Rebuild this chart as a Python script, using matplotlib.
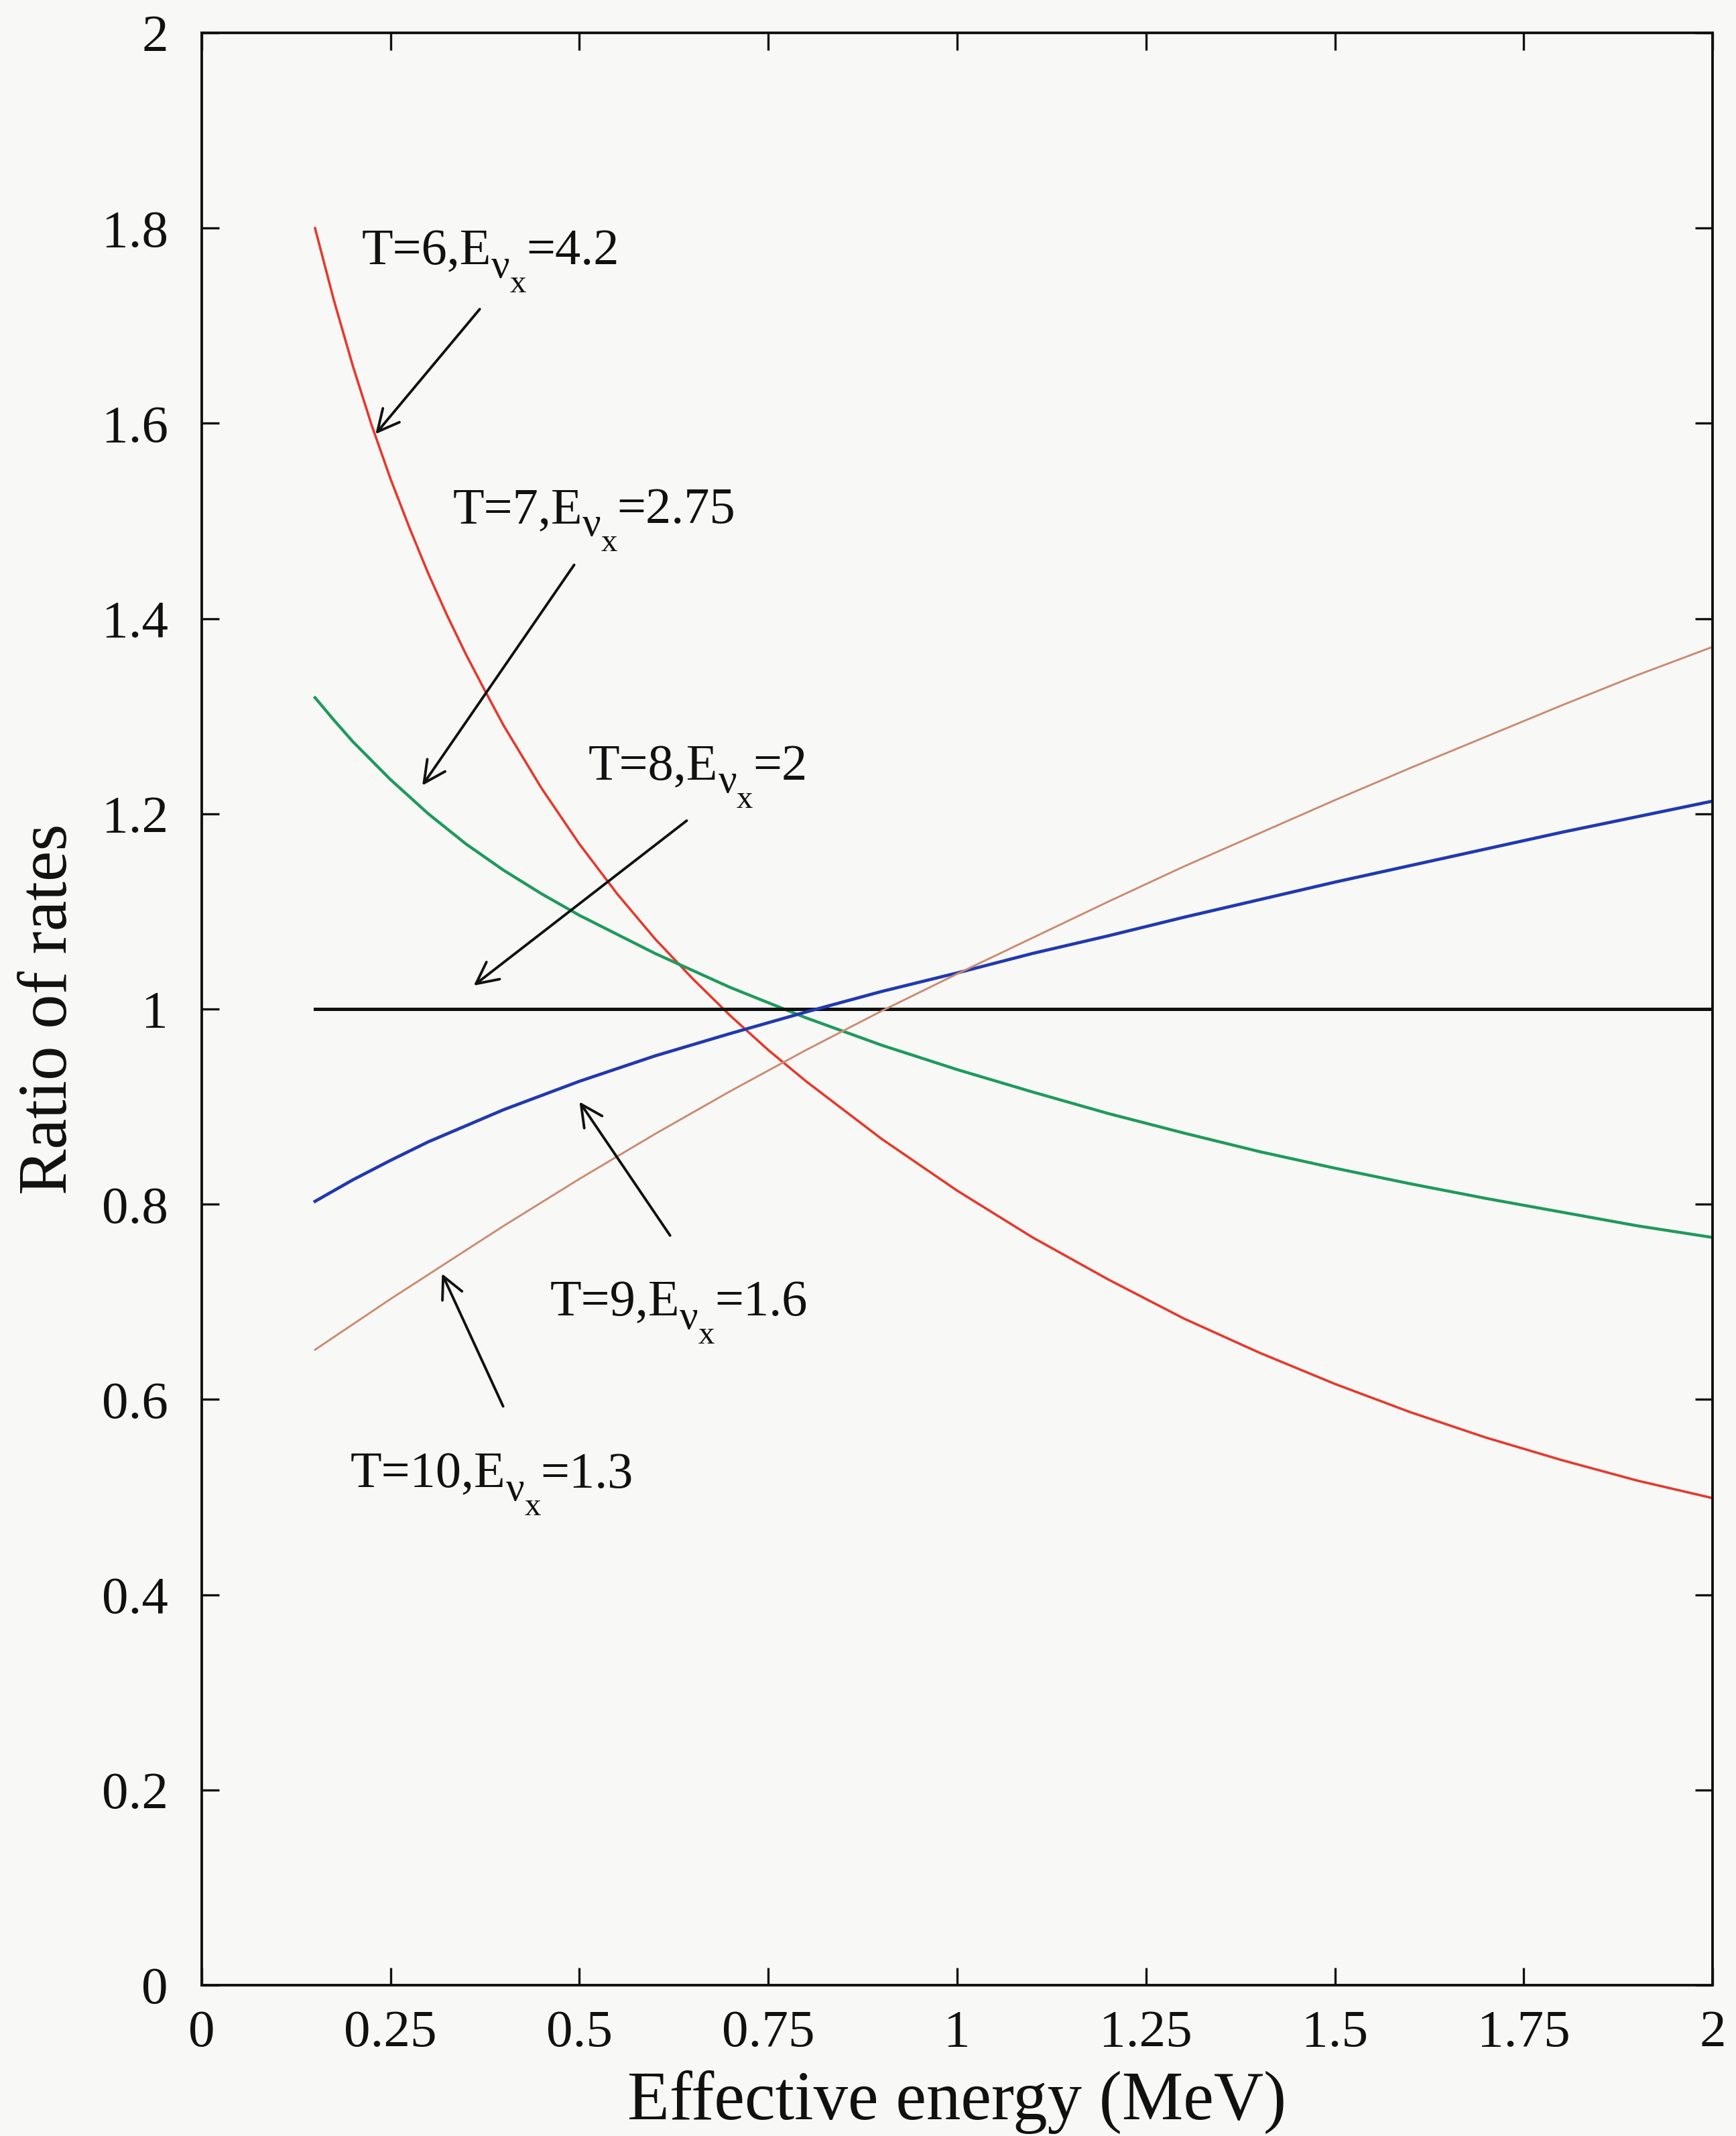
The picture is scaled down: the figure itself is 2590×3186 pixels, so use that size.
import matplotlib
matplotlib.use('Agg')
import matplotlib.pyplot as plot

plot.rcParams['font.family'] = ['Liberation Serif', 'DejaVu Serif']

# ratio of rates against effective energy, one curve per (T, E_nu_x) pair
energy_t6 = [0.15, 0.175, 0.2, 0.225, 0.25, 0.275, 0.3, 0.325, 0.35, 0.375, 0.4, 0.45, 0.5, 0.55,
             0.6, 0.65, 0.7, 0.75, 0.8, 0.9, 1.0, 1.1, 1.2, 1.3, 1.4, 1.5, 1.6, 1.7, 1.8, 1.9, 2.0]
ratio_t6 = [1.800, 1.726, 1.659, 1.598, 1.543, 1.493, 1.446, 1.403, 1.363, 1.326, 1.290, 1.226, 1.169, 1.118,
            1.072, 1.031, 0.993, 0.958, 0.926, 0.867, 0.814, 0.766, 0.723, 0.683, 0.648, 0.616, 0.587, 0.561,
            0.538, 0.517, 0.499]

energy_t7 = [0.15, 0.175, 0.2, 0.25, 0.3, 0.35, 0.4, 0.45, 0.5, 0.6, 0.7, 0.8,
             0.9, 1.0, 1.1, 1.2, 1.3, 1.4, 1.5, 1.6, 1.7, 1.8, 1.9, 2.0]
ratio_t7 = [1.319, 1.296, 1.274, 1.235, 1.200, 1.169, 1.142, 1.118, 1.096, 1.057, 1.022, 0.991,
            0.963, 0.938, 0.915, 0.893, 0.873, 0.854, 0.837, 0.821, 0.806, 0.792, 0.778, 0.766]

energy_t8 = [0.15, 2.0]
ratio_t8 = [1.0, 1.0]

energy_t9 = [0.15, 0.2, 0.25, 0.3, 0.4, 0.5, 0.6, 0.7, 0.8, 0.9, 1.0, 1.1,
             1.2, 1.3, 1.4, 1.5, 1.6, 1.7, 1.8, 1.9, 2.0]
ratio_t9 = [0.803, 0.825, 0.845, 0.864, 0.897, 0.926, 0.952, 0.975, 0.997, 1.018, 1.037, 1.057,
            1.075, 1.094, 1.112, 1.130, 1.147, 1.164, 1.181, 1.197, 1.213]

energy_t10 = [0.15, 0.2, 0.25, 0.3, 0.4, 0.5, 0.6, 0.7, 0.8, 0.9, 1.0, 1.1,
              1.2, 1.3, 1.4, 1.5, 1.6, 1.7, 1.8, 1.9, 2.0]
ratio_t10 = [0.651, 0.677, 0.703, 0.728, 0.778, 0.826, 0.872, 0.916, 0.958, 0.998, 1.036, 1.073,
             1.110, 1.146, 1.180, 1.214, 1.247, 1.279, 1.311, 1.342, 1.371]

x_ticks = [0, 0.25, 0.5, 0.75, 1, 1.25, 1.5, 1.75, 2]
x_tick_labels = ['0', '0.25', '0.5', '0.75', '1', '1.25', '1.5', '1.75', '2']
y_ticks = [0, 0.2, 0.4, 0.6, 0.8, 1, 1.2, 1.4, 1.6, 1.8, 2]
y_tick_labels = ['0', '0.2', '0.4', '0.6', '0.8', '1', '1.2', '1.4', '1.6', '1.8', '2']

# each label is "T=..,E" + subscript nu + sub-subscript x + "=value"
label_heads = ['T=6,E', 'T=7,E', 'T=8,E', 'T=9,E', 'T=10,E']
label_tails = ['=4.2', '=2.75', '=2', '=1.6', '=1.3']
label_spots = [(0.212, 1.763), (0.332, 1.498), (0.512, 1.235), (0.461, 0.686), (0.197, 0.510)]
arrow_tails = [(0.368, 1.717), (0.493, 1.455), (0.642, 1.193), (0.620, 0.768), (0.399, 0.593)]
arrow_heads = [(0.230, 1.589), (0.292, 1.229), (0.360, 1.024), (0.500, 0.905), (0.318, 0.729)]

ink = '#111111'
paper = '#f8f9f6'
label_size = 55

fig = plot.figure(figsize=(25.9, 31.86), dpi=100, facecolor=paper)
ax = fig.add_axes([0.1162, 0.0706, 0.8703, 0.9140], facecolor=paper)

ax.plot(energy_t6, ratio_t6, color='#e8382c', lw=2.6)
ax.plot(energy_t7, ratio_t7, color='#1f9a5c', lw=3.2)
ax.plot(energy_t8, ratio_t8, color='#111111', lw=3.6)
ax.plot(energy_t9, ratio_t9, color='#2139b0', lw=3.4)
ax.plot(energy_t10, ratio_t10, color='#cc8a72', lw=2.1)

ax.set_xlim(0, 2)
ax.set_ylim(0, 2)
ax.set_xticks(x_ticks)
ax.set_xticklabels(x_tick_labels)
ax.set_yticks(y_ticks)
ax.set_yticklabels(y_tick_labels)
ax.tick_params(axis='both', which='major', direction='in', length=19, width=2.4,
               top=True, right=True, labelsize=57, colors=ink)
ax.tick_params(axis='x', pad=26)
ax.tick_params(axis='y', pad=36)
for spine in ax.spines.values():
    spine.set_linewidth(2.8)
    spine.set_color(ink)

ax.set_xlabel('Effective energy (MeV)', fontsize=74, labelpad=14, color=ink)
ax.set_ylabel('Ratio of rates', fontsize=74, labelpad=22, color=ink)

renderer = fig.canvas.get_renderer()
for head, tail, spot in zip(label_heads, label_tails, label_spots):
    pieces = [(head, label_size, 0.0),
              ('\u03bd', label_size * 0.8, -14.0),
              ('x', label_size * 0.64, -30.0),
              (tail, label_size, 0.0)]
    cursor = 0.0
    for piece, size, rise in pieces:
        t = ax.annotate(piece, xy=spot, xycoords='data', xytext=(cursor, rise),
                        textcoords='offset points', fontsize=size,
                        ha='left', va='baseline', color=ink)
        cursor += t.get_window_extent(renderer).width * 72.0 / fig.dpi

for tail, head in zip(arrow_tails, arrow_heads):
    ax.annotate('', xy=head, xytext=tail,
                arrowprops=dict(arrowstyle='->,head_length=0.4,head_width=0.2',
                                color=ink, lw=2.8, mutation_scale=58,
                                shrinkA=0, shrinkB=0))

fig.savefig('out.png', dpi=100, facecolor=paper)
